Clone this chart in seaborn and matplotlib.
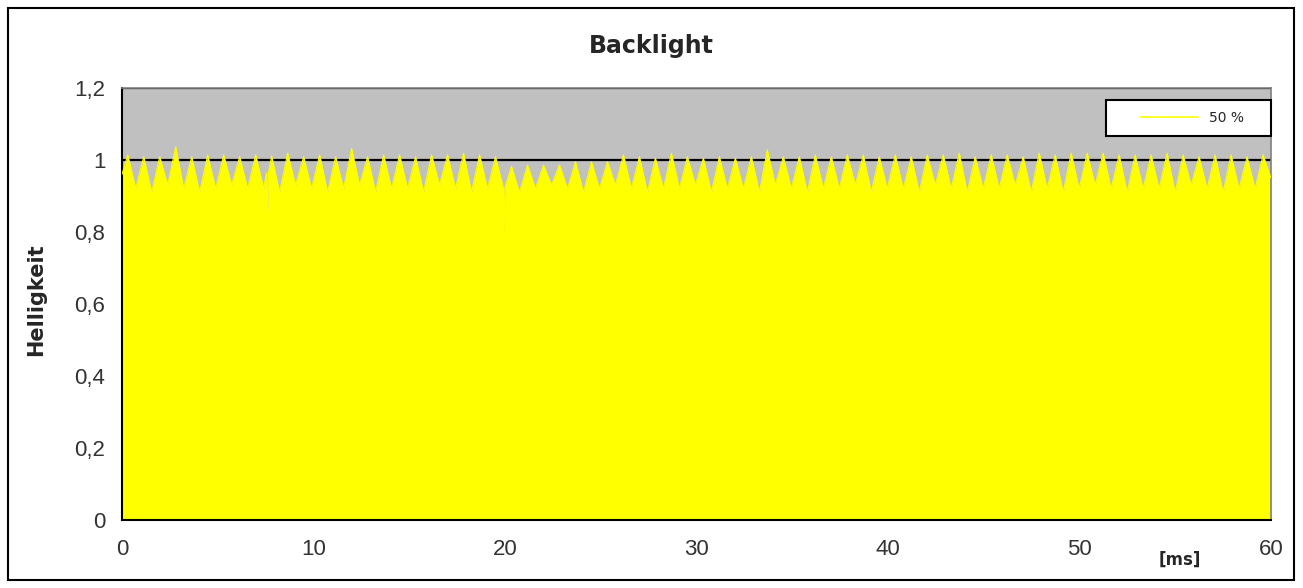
import numpy as np
import pandas as pd
import seaborn as sns
from matplotlib import pyplot as plt
from matplotlib.patches import Rectangle

# Spitzenwerte der Helligkeit pro PWM-Paket
peak_vals = [1.014, 1.009, 1.009, 1.037, 1.009, 1.014, 1.014, 1.009, 1.014, 1.011, 1.019, 1.009,
             1.014, 1.009, 1.032, 1.009, 1.014, 1.014, 1.009, 1.014, 1.014, 1.019, 1.014, 1.009,
             0.982, 0.986, 0.986, 0.986, 0.995, 0.995, 0.995, 1.014, 1.009, 1.005, 1.019, 1.009, 1.005,
             1.009, 1.005, 1.009, 1.028, 1.009, 1.009, 1.014, 1.009, 1.014, 1.014, 1.009, 1.014,
             1.009, 1.014, 1.014, 1.019, 1.009, 1.014, 1.014, 1.009, 1.019, 1.014, 1.019, 1.019,
             1.019, 1.014, 1.014, 1.014, 1.019, 1.014, 1.009, 1.014, 1.014, 1.009, 1.014]
# Einbrueche zwischen den Spitzen
notch_vals = [0.92, 0.91, 0.93, 0.92, 0.91, 0.92, 0.93, 0.92, 0.92, 0.91, 0.93, 0.92,
              0.91, 0.92, 0.93, 0.91, 0.92, 0.92, 0.91, 0.93, 0.92, 0.91, 0.92, 0.92,
              0.91, 0.92, 0.93, 0.92, 0.91, 0.92, 0.93, 0.92, 0.91, 0.92, 0.92, 0.93,
              0.91, 0.92, 0.92, 0.91, 0.93, 0.92, 0.91, 0.92, 0.92, 0.93, 0.91, 0.92,
              0.92, 0.91, 0.93, 0.92, 0.91, 0.92, 0.92, 0.93, 0.91, 0.92, 0.91, 0.92,
              0.93, 0.92, 0.91, 0.92, 0.92, 0.91, 0.93, 0.92, 0.91, 0.92, 0.92]
# einzelne kurze Aussetzer
glitch_ms = [7.6, 19.95]
glitch_vals = [0.85, 0.79]
start_val = 0.96
end_val = 0.95
first_peak_ms = 0.3
period_ms = 0.835
t_end = 60

yticks = [0, 0.2, 0.4, 0.6, 0.8, 1.0, 1.2]
ytick_labels = ['0', '0,2', '0,4', '0,6', '0,8', '1', '1,2']
xticks = [0, 10, 20, 30, 40, 50, 60]

# Huellkurve zusammensetzen
t = [0.0]
v = [start_val]
for i, p in enumerate(peak_vals):
    tp = first_peak_ms + i * period_ms
    t.append(tp)
    v.append(p)
    if i < len(notch_vals):
        t.append(tp + period_ms / 2)
        v.append(notch_vals[i])
t.append(t_end)
v.append(end_val)
df = pd.DataFrame({'ms': t, 'Helligkeit': v})
rows = []
for g, gv in zip(glitch_ms, glitch_vals):
    base = np.interp(g, df['ms'], df['Helligkeit'])
    rows += [(g - 0.05, base), (g, gv), (g + 0.05, base)]
df = pd.concat([df, pd.DataFrame(rows, columns=['ms', 'Helligkeit'])])
df = df.sort_values('ms').reset_index(drop=True)

sns.set_style('white')
plt.rcParams['font.family'] = ['DejaVu Sans']

fig = plt.figure(figsize=(13.03, 5.88), dpi=100)
ax = fig.add_axes([122 / 1303, 1 - 520 / 588, (1271 - 122) / 1303, (520 - 88) / 588])
ax.set_facecolor('#C0C0C0')

ax.fill_between(df['ms'], 0, df['Helligkeit'], color='#FFFF00', lw=0, zorder=2)
sns.lineplot(data=df, x='ms', y='Helligkeit', ax=ax, color='#FFFF00', lw=0.8,
             sort=False, estimator=None, zorder=3, legend=False)

ax.set_xlim(0, 60)
ax.set_ylim(0, 1.2)
ax.set_yticks(yticks)
ax.set_yticklabels(ytick_labels)
ax.set_xticks(xticks)
ax.yaxis.grid(True, color='black', lw=1.6)
ax.xaxis.grid(False)
ax.set_axisbelow(True)
ax.tick_params(axis='both', direction='out', length=6, width=1.2, color='black',
               labelsize=16, labelcolor='#333333', labelfontfamily='Liberation Sans')
ax.tick_params(axis='y', pad=6)
ax.tick_params(axis='x', pad=8)
for s in ['left', 'bottom']:
    ax.spines[s].set_color('black')
    ax.spines[s].set_linewidth(1.5)
for s in ['top', 'right']:
    ax.spines[s].set_color('#808080')
    ax.spines[s].set_linewidth(1.2)

ax.set_xlabel('')
ax.set_ylabel('Helligkeit', fontsize=15, fontweight='bold')
ax.yaxis.set_label_coords((46 - 122) / 1149, 0.51)
fig.text(1180 / 1303, 1 - 560 / 588, '[ms]', fontsize=12, fontweight='bold',
         ha='center', va='center')
fig.text(0.5, 1 - 46 / 588, 'Backlight', fontsize=17, fontweight='bold',
         ha='center', va='center')

# Legende: Rahmen separat, Inhalt mittig darin
fig.patches.append(Rectangle((1106 / 1303, 1 - 136 / 588), 165 / 1303, 36 / 588,
                             transform=fig.transFigure, facecolor='white',
                             edgecolor='black', lw=1.5, zorder=5))
leg_handle = plt.Line2D([], [], color='#FFFF00', lw=1.2)
leg = fig.legend([leg_handle], ['50 %'], loc='center',
                 bbox_to_anchor=(1192 / 1303, 1 - 118 / 588),
                 frameon=False, fontsize=10, handlelength=4.2, handletextpad=0.8)
leg.set_zorder(6)

fig.patches.append(Rectangle((8 / 1303, 1 - 580 / 588), 1286 / 1303, 572 / 588,
                             transform=fig.transFigure, fill=False,
                             edgecolor='black', lw=1.5))

fig.savefig('out.png', dpi=100)
